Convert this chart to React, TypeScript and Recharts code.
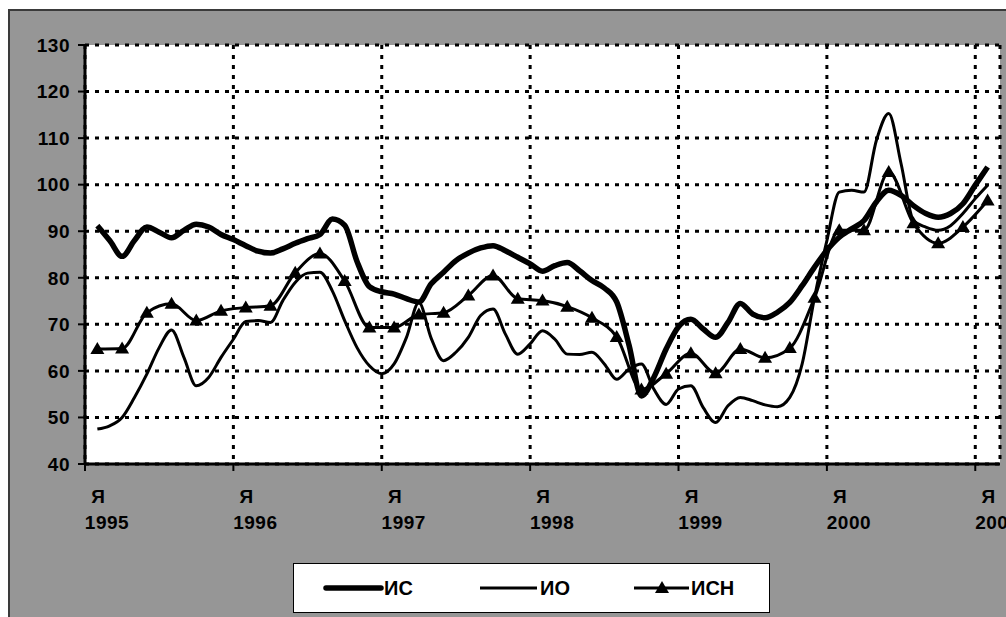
import { LineChart, Line, XAxis, YAxis, CartesianGrid } from 'recharts';

// month index 0 = Jan 1995 ... 72 = Jan 2001 (points sit at the end of each month)
const isValues = [
  91.2, 88.0, 84.6, 88.0, 90.9, 89.8, 88.6, 90.2, 91.5, 90.9, 89.3, 88.2,
  86.9, 85.7, 85.3, 86.2, 87.4, 88.4, 89.3, 92.6, 91.3, 83.5, 78.1, 77.0,
  76.5, 75.5, 74.8, 78.7, 81.2, 83.7, 85.3, 86.4, 86.9, 85.8, 84.4, 83.0,
  81.4, 82.6, 83.3, 81.5, 79.4, 77.8, 74.8, 65.5, 54.6, 58.6, 64.7, 69.5,
  71.1, 69.0, 67.2, 70.4, 74.5, 72.2, 71.4, 72.6, 74.7, 78.3, 82.3, 85.9,
  88.7, 90.5, 92.3, 96.3, 98.8, 97.7, 95.5, 93.8, 93.0, 93.8, 95.9, 99.9,
  103.8,
];

const ioValues = [
  47.5, 48.2, 50.0, 54.3, 59.3, 65.0, 68.8, 62.9, 56.8, 58.6, 62.9, 66.8,
  70.6, 70.8, 70.4, 75.1, 79.0, 81.0, 81.2, 77.2, 70.8, 65.0, 61.1, 59.4,
  61.5, 67.2, 74.7, 67.0, 62.2, 64.0, 67.2, 71.9, 73.3, 67.9, 63.6, 65.8,
  68.6, 66.8, 63.6, 63.5, 64.0, 61.5, 58.2, 60.4, 61.5, 56.1, 52.8, 56.1,
  56.8, 52.1, 48.9, 52.5, 54.3, 53.6, 52.7, 52.3, 54.3, 61.5, 75.8, 88.0,
  98.4, 98.8, 98.4, 109.5, 115.3, 104.5, 92.3, 90.9, 90.2, 91.2, 93.8, 97.0,
  99.9,
];

// ИСН is bimonthly: Jan, Mar, May ...
const isnValues = [
  64.7, 64.8, 72.5, 74.4, 70.8, 72.9, 73.6, 74.0, 81.1, 85.2, 79.3, 69.3,
  69.3, 72.1, 72.5, 76.2, 80.5, 75.5, 75.1, 73.8, 71.4, 67.3, 56.0, 59.4,
  63.8, 59.5, 64.7, 62.8, 64.9, 75.7, 90.2, 90.2, 102.7, 91.7, 87.4, 90.9,
  96.6,
];

const years = ['1995', '1996', '1997', '1998', '1999', '2000', '2001'];
const yTicks = [40, 50, 60, 70, 80, 90, 100, 110, 120, 130];

const isData = isValues.map((v, i) => ({ t: i + 1, v }));
const ioData = ioValues.map((v, i) => ({ t: i + 1, v }));
const isnData = isnValues.map((v, i) => ({ t: i * 2 + 1, v }));
const xTicks = years.map((_, i) => i * 12);

const FONT = '"Liberation Sans", Arial, sans-serif';

const Triangle = (props: any) => {
  const { cx, cy } = props;
  if (cx == null || cy == null) return null;
  return <path d={`M${cx},${cy - 7} L${cx + 7},${cy + 5} L${cx - 7},${cy + 5} Z`} fill="#000" />;
};

const YearTick = (props: any) => {
  const { x, y, payload } = props;
  const year = years[Math.round(payload.value / 12)];
  return (
    <g fontFamily={FONT} fontWeight="bold" fontSize={19} fill="#000">
      <text x={x + 13} y={y + 30} textAnchor="middle">Я</text>
      <text x={x + 22} y={y + 56} textAnchor="middle" letterSpacing={0.5}>{year}</text>
    </g>
  );
};

export default function App() {
  return (
    <div
      style={{
        position: 'absolute',
        left: 8,
        top: 9,
        width: 998,
        height: 610,
        background: '#969696',
        borderTop: '2px solid #3a3a3a',
        borderLeft: '2px solid #3a3a3a',
        boxSizing: 'border-box',
        overflow: 'hidden',
      }}
    >
      <LineChart width={996} height={560} margin={{ top: 34, right: 6, left: 0, bottom: 47 }}>
        <CartesianGrid
          fill="#fff"
          stroke="#000"
          strokeWidth={3}
          strokeDasharray="4 6"
        />
        <XAxis
          type="number"
          dataKey="t"
          domain={[0, 74]}
          ticks={xTicks}
          interval={0}
          height={60}
          tickSize={7}
          tickMargin={2}
          axisLine={{ stroke: '#000', strokeWidth: 3 }}
          tickLine={{ stroke: '#000', strokeWidth: 2 }}
          tick={<YearTick />}
          allowDataOverflow
        />
        <YAxis
          type="number"
          domain={[40, 130]}
          ticks={yTicks}
          interval={0}
          width={75}
          tickSize={7}
          tickMargin={8}
          axisLine={{ stroke: '#000', strokeWidth: 3 }}
          tickLine={{ stroke: '#000', strokeWidth: 2 }}
          tick={{ fill: '#000', fontFamily: FONT, fontWeight: 'bold', fontSize: 19, letterSpacing: 0.5 }}
        />
        <Line data={ioData} dataKey="v" type="monotone" stroke="#000" strokeWidth={3} dot={false} isAnimationActive={false} />
        <Line data={isnData} dataKey="v" type="monotone" stroke="#000" strokeWidth={3} dot={<Triangle />} isAnimationActive={false} />
        <Line data={isData} dataKey="v" type="monotone" stroke="#000" strokeWidth={5.5} dot={false} isAnimationActive={false} />
      </LineChart>
      <div
        style={{
          position: 'absolute',
          left: 283,
          top: 552,
          width: 477,
          height: 50,
          background: '#fff',
          border: '1px solid #000',
          boxSizing: 'border-box',
          fontFamily: FONT,
          fontWeight: 'bold',
          fontSize: 20,
        }}
      >
        <svg width={475} height={48} style={{ position: 'absolute', left: 0, top: 0 }}>
          <line x1={32} y1={24} x2={87} y2={24} stroke="#000" strokeWidth={5.5} strokeLinecap="round" />
          <text x={90} y={31}>ИС</text>
          <line x1={186} y1={24} x2={243} y2={24} stroke="#000" strokeWidth={3} />
          <text x={246} y={31}>ИО</text>
          <line x1={340} y1={24} x2={395} y2={24} stroke="#000" strokeWidth={3} />
          <path d="M368,17 L375,29 L361,29 Z" fill="#000" />
          <text x={397} y={31}>ИСН</text>
        </svg>
      </div>
    </div>
  );
}
